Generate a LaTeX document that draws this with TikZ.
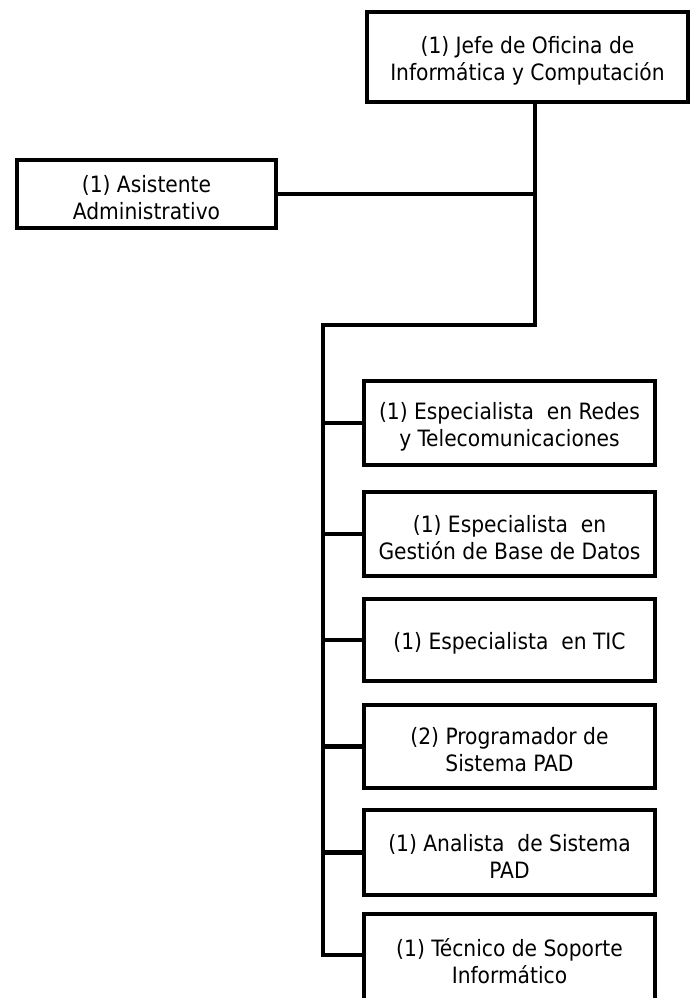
\documentclass[tikz,border=0pt]{standalone}
\usepackage{fontspec}
\setmainfont{DejaVu Sans Condensed}
\begin{document}
\begin{tikzpicture}[x=1pt,y=-1pt,
  unit/.style={draw=black, line width=4.5pt, fill=white, inner sep=0pt,
    label={[title]center:#1}},
  title/.style={align=center, inner sep=0pt, yshift=-3.5pt,
    font=\fontsize{22.5}{27}\selectfont},
  link/.style={draw=black, line width=4.5pt, line cap=rect}]
  \useasboundingbox (0,0) rectangle (692,998);
  % Head of office and assistant
  \node[unit={(1) Jefe de Oficina de\\Informática y Computación},
    minimum width=321pt, minimum height=90pt] (jefe) at (527.5,57) {};
  \node[unit={(1) Asistente\\Administrativo},
    minimum width=259pt, minimum height=68pt] (asis) at (146.5,194) {};
  % Subordinate units
  \node[unit={(1) Especialista\ \ en Redes\\y Telecomunicaciones},
    minimum width=291pt, minimum height=84pt] (redes) at (509.5,423) {};
  \node[unit={(1) Especialista\ \ en\\Gestión de Base de Datos},
    minimum width=291pt, minimum height=84pt] (bd) at (509.5,534) {};
  \node[unit={(1) Especialista\ \ en TIC},
    minimum width=291pt, minimum height=82pt] (tic) at (509.5,640) {};
  \node[unit={(2) Programador de\\Sistema PAD},
    minimum width=291pt, minimum height=83pt] (prog) at (509.5,746.5) {};
  \node[unit={(1) Analista\ \ de Sistema\\PAD},
    minimum width=291pt, minimum height=85pt] (anal) at (509.5,852.5) {};
  \node[unit={(1) Técnico de Soporte\\Informático},
    minimum width=291pt, minimum height=88pt] (tec) at (509.5,958) {};
  % Branch points of the connectors
  \coordinate (drop) at (535,325);
  \coordinate (trunk) at (323,325);
  \coordinate (trunkend) at (323,955);
  % Connectors
  \draw[link] (jefe.south -| drop) -- (drop) -- (trunk) -- (trunkend);
  \draw[link] (asis.east) -- (asis.east -| drop);
  \draw[link] (trunk |- redes.west) -- (redes.west);
  \draw[link] (trunk |- bd.west) -- (bd.west);
  \draw[link] (trunk |- tic.west) -- (tic.west);
  \draw[link] (trunk |- prog.west) -- (prog.west);
  \draw[link] (trunk |- anal.west) -- (anal.west);
  \draw[link] (trunkend) -- (trunkend -| tec.west);
\end{tikzpicture}
\end{document}
